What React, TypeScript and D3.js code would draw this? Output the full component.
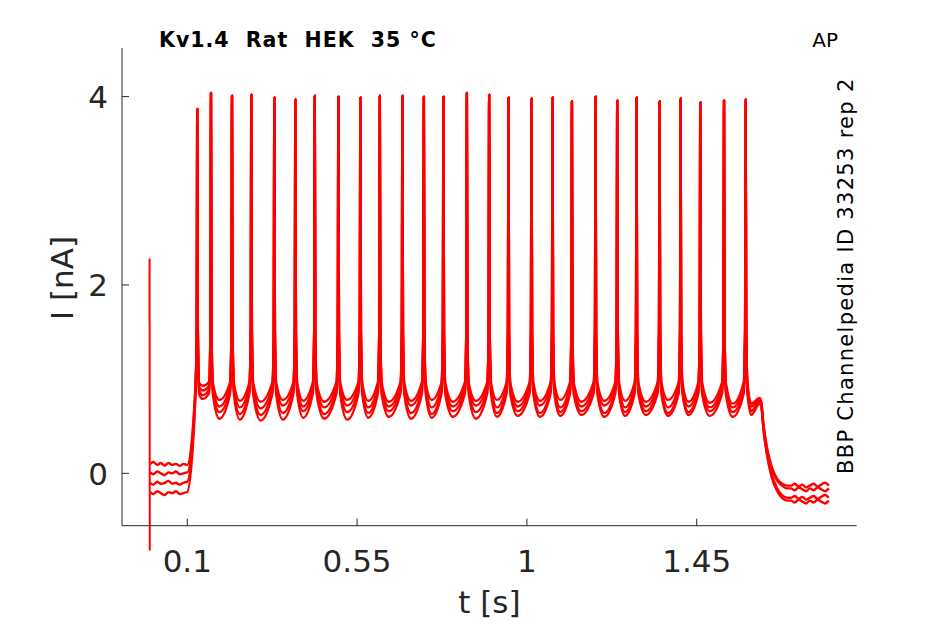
import { curveMonotoneX, line, scaleLinear } from "d3";

// spike times [s] and peak currents [nA], shared by all sweeps
const spikeTimes = [
  0.1265, 0.1628, 0.2185, 0.2697, 0.3307, 0.3864, 0.4378, 0.5004, 0.5587, 0.6102, 0.6701, 0.7269, 0.7788, 0.8409,
  0.9, 0.9512, 1.0122, 1.0679, 1.1193, 1.1819, 1.2394, 1.2906, 1.3516, 1.4073, 1.4595, 1.5224, 1.5797,
];
const spikePeaks = [
  3.87, 4.04, 4.01, 4.02, 3.99, 3.97, 4.01, 4.0, 3.99, 4.01, 4.01, 4.0, 4.0, 4.04, 4.02, 3.99, 3.98, 3.99, 3.95, 4.0,
  3.96, 3.99, 3.95, 3.98, 3.94, 3.96, 3.97,
];

// holding current before the step
const baseT = [0.002, 0.01, 0.02, 0.03, 0.04, 0.05, 0.06, 0.07, 0.08, 0.09, 0.099];
const baseI = [
  [0.1, 0.12, 0.09, 0.11, 0.08, 0.11, 0.09, 0.1, 0.08, 0.1, 0.09],
  [0.01, -0.01, 0.02, 0.0, -0.02, 0.01, 0.0, 0.02, -0.01, 0.0, 0.01],
  [-0.1, -0.12, -0.09, -0.11, -0.1, -0.08, -0.11, -0.1, -0.12, -0.1, -0.09],
  [-0.2, -0.22, -0.19, -0.21, -0.23, -0.2, -0.21, -0.19, -0.22, -0.21, -0.2],
];

// level right after / before each spike, per sweep
const postI = [0.96, 0.92, 0.88, 0.84];
const preI = [0.97, 0.93, 0.89, 0.85];

// minimum between spikes (one value per spike, last = after final spike)
const troughI = [
  [0.93, 0.78, 0.77, 0.76, 0.78, 0.77, 0.76, 0.78, 0.77, 0.76, 0.77, 0.78, 0.76, 0.77, 0.78, 0.76, 0.77, 0.78, 0.76, 0.77, 0.77, 0.76, 0.78, 0.76, 0.75, 0.74, 0.74],
  [0.88, 0.71, 0.7, 0.69, 0.72, 0.71, 0.7, 0.72, 0.7, 0.71, 0.72, 0.7, 0.71, 0.72, 0.7, 0.71, 0.72, 0.7, 0.71, 0.72, 0.7, 0.71, 0.7, 0.71, 0.7, 0.7, 0.71],
  [0.83, 0.65, 0.63, 0.62, 0.64, 0.66, 0.63, 0.65, 0.64, 0.66, 0.64, 0.63, 0.66, 0.65, 0.64, 0.66, 0.64, 0.65, 0.66, 0.64, 0.65, 0.66, 0.64, 0.65, 0.66, 0.65, 0.66],
  [0.79, 0.58, 0.57, 0.56, 0.57, 0.59, 0.58, 0.57, 0.59, 0.6, 0.58, 0.59, 0.6, 0.58, 0.6, 0.61, 0.6, 0.61, 0.62, 0.6, 0.61, 0.62, 0.61, 0.62, 0.61, 0.6, 0.62],
];

// end of step and tail
const stepEndT = 1.617;
const stepEndI = [0.8, 0.78, 0.76, 0.74];
const decayT = [1.621, 1.627, 1.636, 1.648, 1.662, 1.676, 1.69];
const decayI = [
  [0.76, 0.52, 0.28, 0.08, -0.05, -0.11, -0.13],
  [0.75, 0.5, 0.26, 0.06, -0.07, -0.13, -0.16],
  [0.73, 0.48, 0.22, 0.0, -0.15, -0.23, -0.26],
  [0.71, 0.46, 0.2, -0.03, -0.18, -0.26, -0.29],
];
const tailT = [1.7, 1.71, 1.72, 1.73, 1.74, 1.75, 1.76, 1.77, 1.78, 1.79, 1.8];
const tailI = [
  [-0.13, -0.11, -0.14, -0.12, -0.15, -0.13, -0.11, -0.14, -0.12, -0.1, -0.13],
  [-0.16, -0.18, -0.15, -0.17, -0.19, -0.16, -0.18, -0.15, -0.17, -0.19, -0.16],
  [-0.26, -0.24, -0.27, -0.25, -0.28, -0.26, -0.24, -0.27, -0.25, -0.23, -0.26],
  [-0.29, -0.31, -0.28, -0.3, -0.32, -0.29, -0.31, -0.28, -0.3, -0.32, -0.29],
];

// capacitive artifact at t = 0
const artifactT = [0, 0.0006];
const artifactI = [2.28, -0.82];

const xTicks = [0.1, 0.55, 1, 1.45];
const xTickLabels = ["0.1", "0.55", "1", "1.45"];
const yTicks = [0, 2, 4];

type Pt = [number, number];

function sweepPoints(s: number): Pt[] {
  const pts: Pt[] = baseT.map((t, i) => [t, baseI[s][i]]);
  pts.push([0.1, baseI[s][baseI[s].length - 1]]);
  pts.push([spikeTimes[0] - 0.005, preI[s] - 0.05]);
  spikeTimes.forEach((t, k) => {
    pts.push([t - 0.0015, 1.5], [t, spikePeaks[k]], [t + 0.0015, 1.5], [t + 0.005, postI[s]]);
    const next = k + 1 < spikeTimes.length ? spikeTimes[k + 1] : stepEndT;
    pts.push([t + 0.4 * (next - t), troughI[s][k]]);
    if (k + 1 < spikeTimes.length) pts.push([next - 0.005, preI[s]]);
  });
  pts.push([stepEndT, stepEndI[s]]);
  decayT.forEach((t, i) => pts.push([t, decayI[s][i]]));
  tailT.forEach((t, i) => pts.push([t, tailI[s][i]]));
  return pts;
}

export default function App() {
  const width = 945;
  const height = 624;
  const left = 122;
  const right = 856.7;
  const top = 48;
  const bottom = 525.7;

  const x = scaleLinear().domain([-0.073, 1.874]).range([left, right]);
  const y = scaleLinear().domain([-0.556, 4.516]).range([bottom, top]);

  const traceLine = line<Pt>()
    .x((d) => x(d[0]))
    .y((d) => y(d[1]))
    .curve(curveMonotoneX);
  const straight = line<Pt>()
    .x((d) => x(d[0]))
    .y((d) => y(d[1]));

  const axisColor = "#262626";
  const font = "DejaVu Sans, sans-serif";

  return (
    <div style={{ position: "absolute", left: 0, top: 0 }}>
      <svg width={width} height={height} viewBox={`0 0 ${width} ${height}`} style={{ display: "block", background: "#fff" }}>
        {baseI.map((_, s) => (
          <path key={s} d={traceLine(sweepPoints(s)) ?? ""} fill="none" stroke="#ff0000" strokeWidth={2.4} strokeLinejoin="round" />
        ))}
        <path d={straight(artifactT.map((t, i) => [t, artifactI[i]] as Pt)) ?? ""} fill="none" stroke="#ff0000" strokeWidth={2} />

        <line x1={left} x2={right} y1={bottom} y2={bottom} stroke={axisColor} strokeWidth={1} />
        <line x1={left} x2={left} y1={top} y2={bottom} stroke={axisColor} strokeWidth={1} />

        {xTicks.map((t, i) => (
          <g key={t}>
            <line x1={x(t)} x2={x(t)} y1={bottom} y2={bottom - 7} stroke={axisColor} strokeWidth={1} />
            <text x={x(t)} y={572} textAnchor="middle" fontFamily={font} fontSize={31} fill={axisColor}>
              {xTickLabels[i]}
            </text>
          </g>
        ))}
        {yTicks.map((v) => (
          <g key={v}>
            <line x1={left} x2={left + 7} y1={y(v)} y2={y(v)} stroke={axisColor} strokeWidth={1} />
            <text x={108} y={y(v) + 11.3} textAnchor="end" fontFamily={font} fontSize={31} fill={axisColor}>
              {v}
            </text>
          </g>
        ))}

        <text x={(left + right) / 2} y={613} textAnchor="middle" fontFamily={font} fontSize={31} fill={axisColor}>
          t [s]
        </text>
        <text transform="translate(73, 278) rotate(-90)" textAnchor="middle" fontFamily={font} fontSize={31} fill={axisColor}>
          I [nA]
        </text>

        <text x={159} y={46.5} fontFamily={font} fontWeight="bold" fontSize={20.5} letterSpacing={1} fill="#000" xmlSpace="preserve" style={{ whiteSpace: "pre" }}>
          {"Kv1.4  Rat  HEK  35 °C"}
        </text>
        <text x={838} y={46.5} textAnchor="end" fontFamily={font} fontSize={20} fill="#000">
          AP
        </text>
        <text transform="translate(853, 474) rotate(-90)" fontFamily={font} fontSize={21} letterSpacing={1.3} fill="#000">
          BBP Channelpedia ID 33253 rep 2
        </text>
      </svg>
    </div>
  );
}
